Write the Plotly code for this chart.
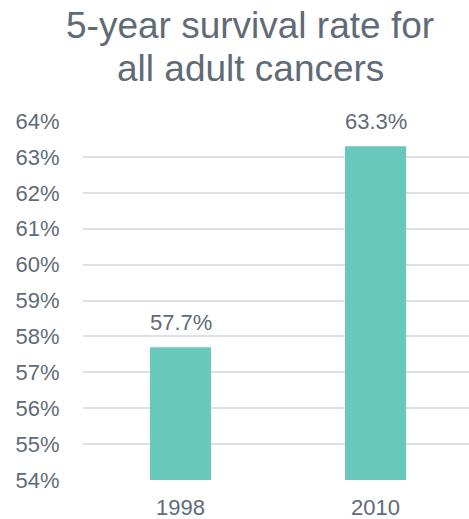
import plotly.graph_objects as go

years = ["1998", "2010"]
rates = [57.7, 63.3]
tick_vals = list(range(54, 65))
tick_text = [f"{v}%" for v in tick_vals]
title_lines = ["5-year survival rate for", "all adult cancers"]

text_color = "#5F6B77"
bar_color = "#67C8BB"
font_family = "Liberation Sans, Arial, sans-serif"

fig = go.Figure(
    go.Bar(
        x=years,
        y=rates,
        marker=dict(color=bar_color, line=dict(width=0)),
        width=0.313,
        hoverinfo="skip",
    )
)

# value labels above each bar (category index as x position)
for i, r in enumerate(rates):
    fig.add_annotation(
        x=i, y=r, xref="x", yref="y",
        text=f"{r:.1f}%", showarrow=False,
        yanchor="middle", yshift=25,
        font=dict(family=font_family, size=22, color=text_color),
    )

# two-line title
for line, shift in zip(title_lines, [96, 53]):
    fig.add_annotation(
        x=(250 - 83) / 386, xref="paper",
        y=1, yref="paper",
        yanchor="middle", yshift=shift,
        text=line, showarrow=False,
        font=dict(family=font_family, size=37, color=text_color),
    )

fig.update_layout(
    width=469, height=519,
    margin=dict(l=83, r=0, t=121, b=39),
    paper_bgcolor="white", plot_bgcolor="white",
    showlegend=False,
    font=dict(family=font_family, color=text_color, size=22),
    xaxis=dict(
        type="category", range=[-0.5, 1.479],
        showgrid=False, showline=False, zeroline=False,
        ticks="outside", ticklen=8, tickcolor="rgba(0,0,0,0)",
        tickfont=dict(size=22, color=text_color),
    ),
    yaxis=dict(
        range=[54, 64],
        tickvals=tick_vals, ticktext=tick_text,
        showgrid=True, gridcolor="#DDE0E4", gridwidth=1.5,
        zeroline=False, showline=False,
        ticks="outside", ticklen=18, tickcolor="rgba(0,0,0,0)",
        tickfont=dict(size=22, color=text_color),
    ),
)

fig.write_html("out.html")
